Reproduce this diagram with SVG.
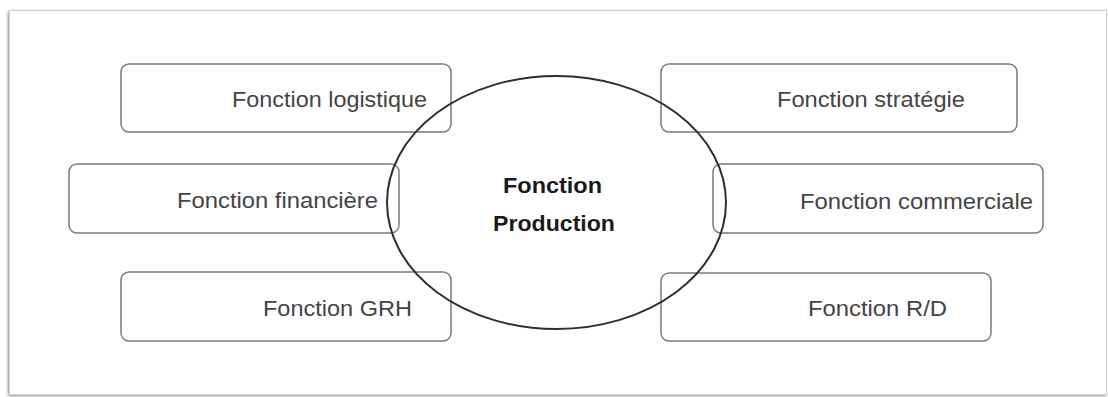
<svg xmlns="http://www.w3.org/2000/svg" width="1108" height="397" viewBox="0 0 1108 397">
  <defs>
    <filter id="frameShadow" x="-2%" y="-5%" width="104%" height="110%">
      <feGaussianBlur in="SourceAlpha" stdDeviation="1.5"/>
      <feOffset dx="-1" dy="1"/>
      <feComponentTransfer><feFuncA type="linear" slope="0.45"/></feComponentTransfer>
      <feMerge><feMergeNode/><feMergeNode in="SourceGraphic"/></feMerge>
    </filter>
  </defs>
  <style>
    .box { fill: #ffffff; stroke: #7a7a7a; stroke-width: 1.5; }
    .lbl { font-family: "Liberation Sans", Arial, sans-serif; font-size: 22px; fill: #444444; }
    .core { font-family: "Liberation Sans", Arial, sans-serif; font-size: 22.5px; font-weight: bold; fill: #1a1a1a; }
    .hub { fill: none; stroke: #2e2e2e; stroke-width: 2; }
  </style>

  <rect x="0" y="0" width="1108" height="397" fill="#ffffff"/>
  <!-- page frame -->
  <rect x="9.5" y="10.5" width="1097" height="384" fill="#ffffff" stroke="#d2d2d2" stroke-width="1" filter="url(#frameShadow)"/>

  <g id="n-logistique">
    <rect class="box" x="121" y="64" width="330" height="68" rx="8"/>
    <text class="lbl" x="232" y="107" textLength="195" lengthAdjust="spacingAndGlyphs">Fonction logistique</text>
  </g>
  <g id="n-financiere">
    <rect class="box" x="69" y="164" width="330" height="69" rx="8"/>
    <text class="lbl" x="177" y="208" textLength="201" lengthAdjust="spacingAndGlyphs">Fonction financière</text>
  </g>
  <g id="n-grh">
    <rect class="box" x="121" y="272" width="330" height="69" rx="8"/>
    <text class="lbl" x="263" y="316" textLength="149" lengthAdjust="spacingAndGlyphs">Fonction GRH</text>
  </g>
  <g id="n-strategie">
    <rect class="box" x="661" y="64" width="356" height="68" rx="8"/>
    <text class="lbl" x="777" y="107" textLength="188" lengthAdjust="spacingAndGlyphs">Fonction stratégie</text>
  </g>
  <g id="n-commerciale">
    <rect class="box" x="713" y="164" width="330" height="69" rx="8"/>
    <text class="lbl" x="800" y="209" textLength="233" lengthAdjust="spacingAndGlyphs">Fonction commerciale</text>
  </g>
  <g id="n-rd">
    <rect class="box" x="661" y="273" width="330" height="68" rx="8"/>
    <text class="lbl" x="808" y="316" textLength="139" lengthAdjust="spacingAndGlyphs">Fonction R/D</text>
  </g>

  <g id="connectors"></g>

  <g id="n-production">
    <ellipse class="hub" cx="556.5" cy="202.5" rx="169.5" ry="126.5"/>
    <text class="core" x="503" y="193" textLength="99" lengthAdjust="spacingAndGlyphs">Fonction</text>
    <text class="core" x="493" y="231" textLength="122" lengthAdjust="spacingAndGlyphs">Production</text>
  </g>
</svg>
